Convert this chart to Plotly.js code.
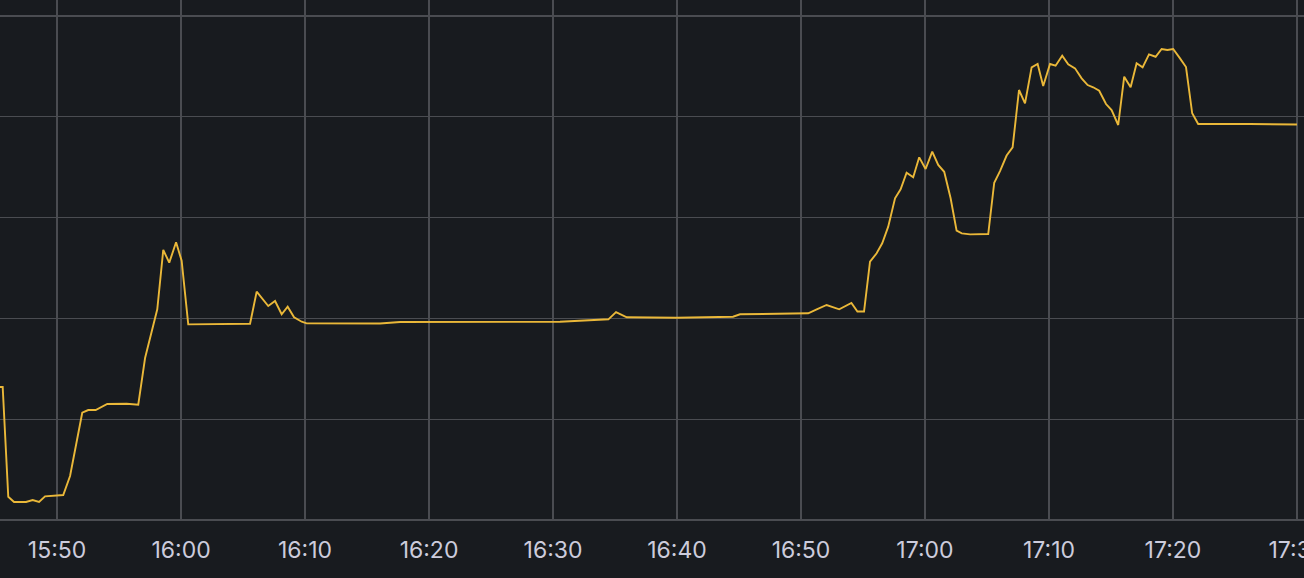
<!DOCTYPE html>
<html>
<head>
<meta charset="utf-8">
<script src="https://cdn.plot.ly/plotly-3.0.1.min.js"></script>
<style>
html,body{margin:0;padding:0;background:#181b1f;overflow:hidden;}
#chart{width:1304px;height:578px;}
</style>
</head>
<body>
<div id="chart"></div>
<script>
const day = '2024-01-01 ';
const times = [
'15:45:20','15:45:37','15:46:04','15:46:32','15:47:30','15:48:02','15:48:33','15:49:02','15:50:30','15:51:03',
'15:52:02','15:52:31','15:53:07','15:54:03','15:55:37','15:56:33','15:57:06','15:58:05','15:58:34','15:59:03',
'15:59:36','16:00:03','16:00:35','16:05:34','16:06:06','16:07:02','16:07:35','16:08:07','16:08:36','16:09:07',
'16:09:44','16:10:08','16:16:03','16:17:40','16:30:34','16:34:28','16:35:05','16:35:57','16:39:58','16:44:31',
'16:45:05','16:47:14','16:50:35','16:51:16','16:52:04','16:53:05','16:54:04','16:54:33','16:55:05','16:55:34',
'16:56:06','16:56:33','16:57:02','16:57:35','16:58:02','16:58:31','16:59:03','16:59:32','17:00:03','17:00:35',
'17:01:04','17:01:33','17:02:04','17:02:33','17:02:58','17:03:38','17:05:06','17:05:35','17:06:03','17:06:35',
'17:07:04','17:07:35','17:08:04','17:08:36','17:09:05','17:09:32','17:10:05','17:10:32','17:11:04','17:11:33',
'17:12:06','17:12:38','17:13:07','17:13:34','17:14:03','17:14:36','17:15:03','17:15:35','17:16:04','17:16:35',
'17:17:04','17:17:33','17:18:04','17:18:36','17:19:05','17:19:33','17:20:01','17:20:34','17:21:03','17:21:33',
'17:22:02','17:26:12','17:30:00'
];
const values = [
13.2,13.2,2.31,1.79,1.79,1.98,1.79,2.35,2.48,4.37,
10.64,10.91,10.91,11.51,11.54,11.44,16.07,20.90,26.79,25.53,
27.55,25.72,19.41,19.47,22.65,21.23,21.73,20.41,21.16,20.11,
19.67,19.51,19.49,19.64,19.67,19.91,20.63,20.11,20.07,20.17,
20.41,20.47,20.51,20.90,21.33,20.90,21.53,20.68,20.68,25.63,
26.46,27.45,29.10,31.92,32.81,34.46,34.00,35.98,34.82,36.54,
35.22,34.55,31.92,28.70,28.44,28.34,28.37,33.46,34.62,36.16,
36.97,42.66,41.34,44.91,45.24,43.06,45.24,45.07,46.06,45.21,
44.81,43.82,43.15,42.93,42.59,41.27,40.67,39.19,43.98,42.93,
45.31,44.91,46.20,45.96,46.73,46.63,46.73,45.80,44.94,40.35,
39.29,39.29,39.24
];
const xRange = ['15:45:24', '17:30:34'];
const yRange = [0, 51.59];

const gridColor = '#4a4c51';
const trace = {
  x: times.map(t => day + t),
  y: values,
  type: 'scatter',
  mode: 'lines',
  line: {color: '#EAB839', width: 1.9},
  hoverinfo: 'skip'
};
const layout = {
  width: 1304, height: 578,
  margin: {l: 0, r: 0, t: 0, b: 58, pad: 0},
  paper_bgcolor: '#181b1f',
  plot_bgcolor: '#181b1f',
  showlegend: false,
  font: {family: 'Inter, "Noto Sans", sans-serif', color: '#ccccdc', size: 23},
  xaxis: {
    type: 'date',
    range: xRange.map(t => day + t),
    dtick: 600000,
    tick0: day + '15:50:00',
    tickformat: '%H:%M',
    showgrid: true, gridcolor: gridColor, gridwidth: 1.3,
    zeroline: false, showline: false,
    ticks: '', ticklabelstandoff: 14,
    ticklabeloverflow: 'allow',
    tickfont: {size: 23, color: '#ccccdc'}
  },
  yaxis: {
    range: yRange,
    dtick: 10, tick0: 0,
    showticklabels: false,
    showgrid: true, gridcolor: gridColor, gridwidth: 1.3,
    zeroline: true, zerolinecolor: gridColor, zerolinewidth: 1.5,
    showline: false, ticks: ''
  }
};
Plotly.newPlot('chart', [trace], layout, {displayModeBar: false, staticPlot: true});
</script>
</body>
</html>
